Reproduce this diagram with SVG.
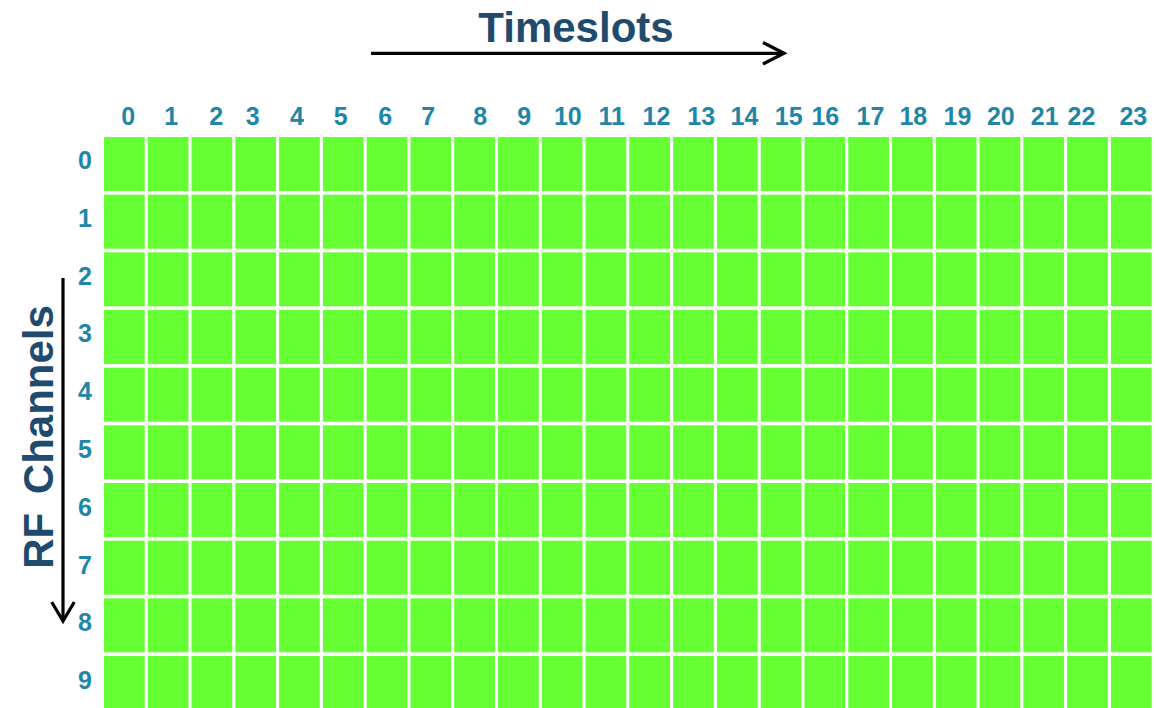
<svg xmlns="http://www.w3.org/2000/svg" xmlns:xlink="http://www.w3.org/1999/xlink" width="1156" height="708" viewBox="0 0 1156 708">
<style>
.cell{fill:#66ff33}
.lbl{font-family:"Liberation Sans",Arial,sans-serif;font-weight:bold;font-size:25px;fill:#1f86a6;text-anchor:middle}
.title{font-family:"Liberation Sans",Arial,sans-serif;font-weight:bold;font-size:42px;fill:#1f4b6e;text-anchor:middle}
.arr{stroke:#000;stroke-width:3.2;fill:none;stroke-linecap:butt;stroke-linejoin:miter}
</style>
<defs>
<g id="row">
<rect class="cell" x="104" y="0" width="40.7" height="54"/>
<rect class="cell" x="147.78" y="0" width="40.7" height="54"/>
<rect class="cell" x="191.56" y="0" width="40.7" height="54"/>
<rect class="cell" x="235.34" y="0" width="40.7" height="54"/>
<rect class="cell" x="279.12" y="0" width="40.7" height="54"/>
<rect class="cell" x="322.9" y="0" width="40.7" height="54"/>
<rect class="cell" x="366.68" y="0" width="40.7" height="54"/>
<rect class="cell" x="410.46" y="0" width="40.7" height="54"/>
<rect class="cell" x="454.24" y="0" width="40.7" height="54"/>
<rect class="cell" x="498.02" y="0" width="40.7" height="54"/>
<rect class="cell" x="541.8" y="0" width="40.7" height="54"/>
<rect class="cell" x="585.58" y="0" width="40.7" height="54"/>
<rect class="cell" x="629.36" y="0" width="40.7" height="54"/>
<rect class="cell" x="673.14" y="0" width="40.7" height="54"/>
<rect class="cell" x="716.92" y="0" width="40.7" height="54"/>
<rect class="cell" x="760.7" y="0" width="40.7" height="54"/>
<rect class="cell" x="804.48" y="0" width="40.7" height="54"/>
<rect class="cell" x="848.26" y="0" width="40.7" height="54"/>
<rect class="cell" x="892.04" y="0" width="40.7" height="54"/>
<rect class="cell" x="935.82" y="0" width="40.7" height="54"/>
<rect class="cell" x="979.6" y="0" width="40.7" height="54"/>
<rect class="cell" x="1023.38" y="0" width="40.7" height="54"/>
<rect class="cell" x="1067.16" y="0" width="40.7" height="54"/>
<rect class="cell" x="1110.94" y="0" width="40.7" height="54"/>
</g>
</defs>
<rect width="1156" height="708" fill="#fff"/>
<g id="grid">
<use href="#row" xlink:href="#row" y="137"/>
<use href="#row" xlink:href="#row" y="194.67"/>
<use href="#row" xlink:href="#row" y="252.33"/>
<use href="#row" xlink:href="#row" y="310"/>
<use href="#row" xlink:href="#row" y="367.67"/>
<use href="#row" xlink:href="#row" y="425.33"/>
<use href="#row" xlink:href="#row" y="483"/>
<use href="#row" xlink:href="#row" y="540.67"/>
<use href="#row" xlink:href="#row" y="598.33"/>
<use href="#row" xlink:href="#row" y="656"/>
</g>
<g id="col-labels" class="lbl">
<text x="128.3" y="125">0</text>
<text x="171.2" y="125">1</text>
<text x="216.3" y="125">2</text>
<text x="252.7" y="125">3</text>
<text x="297" y="125">4</text>
<text x="340.7" y="125">5</text>
<text x="385.2" y="125">6</text>
<text x="428.3" y="125">7</text>
<text x="480.3" y="125">8</text>
<text x="524.2" y="125">9</text>
<text x="567.8" y="125">10</text>
<text x="611.7" y="125">11</text>
<text x="656.5" y="125">12</text>
<text x="701.2" y="125">13</text>
<text x="744.5" y="125">14</text>
<text x="788.7" y="125">15</text>
<text x="825.3" y="125">16</text>
<text x="870.5" y="125">17</text>
<text x="913.3" y="125">18</text>
<text x="957.5" y="125">19</text>
<text x="1000.8" y="125">20</text>
<text x="1044.7" y="125">21</text>
<text x="1081.5" y="125">22</text>
<text x="1133.3" y="125">23</text>
</g>
<g id="row-labels" class="lbl">
<text x="85" y="169">0</text>
<text x="85" y="226.8">1</text>
<text x="85" y="284.6">2</text>
<text x="85" y="342.4">3</text>
<text x="85" y="400.2">4</text>
<text x="85" y="458">5</text>
<text x="85" y="515.8">6</text>
<text x="85" y="573.6">7</text>
<text x="85" y="631.4">8</text>
<text x="85" y="689.2">9</text>
</g>
<g id="title-timeslots">
<text class="title" x="576" y="42">Timeslots</text>
</g>
<g id="title-channels">
<text class="title" transform="translate(53,437) rotate(-90)">RF<tspan dx="7"> Channels</tspan></text>
</g>
<g id="connectors">
<path class="arr" d="M371 53.3H784"/>
<path class="arr" d="M763 42.5L784 53.3L763 64"/>
<path class="arr" d="M63 278V621"/>
<path class="arr" d="M51.7 602L63 621L74.3 602"/>
</g>
</svg>
